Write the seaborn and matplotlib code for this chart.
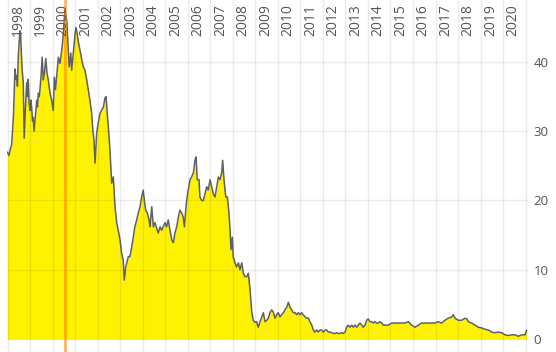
import matplotlib
matplotlib.use("Agg")
import matplotlib.pyplot as plt
import seaborn as sns
import pandas as pd

# time (decimal years) and price
dates = [
    1997.97, 1998.04, 1998.11, 1998.16, 1998.20, 1998.24, 1998.28, 1998.31, 1998.36, 1998.39,
    1998.42, 1998.46, 1998.50, 1998.53, 1998.56, 1998.61, 1998.64, 1998.68, 1998.72, 1998.77,
    1998.83, 1998.87, 1998.90, 1998.94, 1998.98, 1999.02, 1999.05, 1999.09, 1999.12, 1999.16,
    1999.20, 1999.24, 1999.28, 1999.31, 1999.35, 1999.39, 1999.42, 1999.47, 1999.52, 1999.57,
    1999.62, 1999.68, 1999.73, 1999.79, 1999.87, 1999.94, 2000.01, 2000.06, 2000.11, 2000.16,
    2000.24, 2000.31, 2000.39, 2000.46, 2000.50, 2000.53, 2000.61, 2000.68, 2000.72, 2000.79,
    2000.83, 2000.90, 2000.98, 2001.02, 2001.08, 2001.12, 2001.20, 2001.28, 2001.35, 2001.42,
    2001.50, 2001.57, 2001.64, 2001.72, 2001.76, 2001.82, 2001.87, 2001.94, 2002.01, 2002.09,
    2002.16, 2002.24, 2002.31, 2002.36, 2002.41, 2002.46, 2002.53, 2002.61, 2002.68, 2002.76,
    2002.83, 2002.90, 2002.98, 2003.05, 2003.12, 2003.17, 2003.23, 2003.28, 2003.35, 2003.42,
    2003.50, 2003.57, 2003.64, 2003.72, 2003.79, 2003.87, 2003.94, 2004.01, 2004.06, 2004.12,
    2004.19, 2004.27, 2004.31, 2004.39, 2004.46, 2004.53, 2004.61, 2004.68, 2004.76, 2004.83,
    2004.90, 2004.98, 2005.05, 2005.12, 2005.20, 2005.28, 2005.35, 2005.42, 2005.50, 2005.57,
    2005.64, 2005.72, 2005.79, 2005.84, 2005.90, 2005.94, 2006.01, 2006.09, 2006.16, 2006.24,
    2006.31, 2006.36, 2006.41, 2006.49, 2006.53, 2006.61, 2006.68, 2006.76, 2006.83, 2006.90,
    2006.98, 2007.05, 2007.12, 2007.20, 2007.28, 2007.35, 2007.42, 2007.50, 2007.54, 2007.60,
    2007.68, 2007.75, 2007.82, 2007.87, 2007.91, 2007.97, 2008.01, 2008.09, 2008.16, 2008.24,
    2008.31, 2008.39, 2008.46, 2008.53, 2008.61, 2008.68, 2008.76, 2008.83, 2008.90, 2008.98,
    2009.05, 2009.12, 2009.20, 2009.28, 2009.35, 2009.42, 2009.50, 2009.57, 2009.64, 2009.72,
    2009.79, 2009.87, 2009.94, 2010.01, 2010.09, 2010.16, 2010.24, 2010.31, 2010.39, 2010.46,
    2010.53, 2010.61, 2010.68, 2010.76, 2010.83, 2010.90, 2010.98, 2011.05, 2011.12, 2011.20,
    2011.28, 2011.35, 2011.42, 2011.50, 2011.57, 2011.64, 2011.72, 2011.79, 2011.87, 2011.94,
    2012.01, 2012.09, 2012.16, 2012.24, 2012.31, 2012.39, 2012.46, 2012.53, 2012.61, 2012.68,
    2012.76, 2012.83, 2012.90, 2012.98, 2013.05, 2013.12, 2013.20, 2013.28, 2013.35, 2013.42,
    2013.50, 2013.57, 2013.64, 2013.72, 2013.79, 2013.87, 2013.94, 2014.01, 2014.09, 2014.16,
    2014.24, 2014.31, 2014.39, 2014.46, 2014.53, 2014.61, 2014.68, 2014.76, 2014.90, 2015.05,
    2015.20, 2015.35, 2015.50, 2015.64, 2015.79, 2015.94, 2016.09, 2016.24, 2016.39, 2016.53,
    2016.68, 2016.83, 2016.98, 2017.12, 2017.27, 2017.42, 2017.57, 2017.72, 2017.79, 2017.87,
    2018.01, 2018.16, 2018.31, 2018.39, 2018.46, 2018.61, 2018.76, 2018.90, 2019.05, 2019.20,
    2019.35, 2019.50, 2019.64, 2019.79, 2019.94, 2020.09, 2020.24, 2020.39, 2020.53, 2020.68,
    2020.83, 2020.98, 2021.05,
]
prices = [
    27.0, 26.5, 27.5, 28.0, 30.0, 32.0, 36.0, 39.0, 37.5, 38.0,
    36.5, 41.0, 43.0, 44.5, 44.0, 40.0, 38.5, 37.0, 29.0, 33.0,
    37.0, 35.0, 37.5, 34.0, 33.0, 34.5, 33.5, 31.5, 32.0, 30.0,
    31.6, 33.0, 34.5, 33.5, 35.5, 35.0, 36.0, 38.0, 40.7, 37.4,
    38.5, 40.5, 38.5, 37.4, 35.5, 34.5, 33.0, 37.8, 36.0, 37.8,
    40.7, 39.8, 41.7, 44.0, 46.0, 47.5, 46.0, 41.7, 39.3, 41.3,
    38.8, 41.3, 44.0, 45.0, 44.0, 43.0, 41.7, 40.3, 39.3, 38.8,
    37.4, 36.0, 34.5, 32.6, 30.6, 28.7, 25.4, 29.7, 31.2, 32.6,
    33.0, 33.5, 34.8, 35.0, 32.6, 30.6, 27.3, 22.5, 23.4, 19.0,
    16.8, 15.7, 14.3, 12.4, 11.4, 8.5, 10.4, 11.0, 11.9, 11.9,
    13.3, 14.7, 16.2, 17.2, 18.2, 19.1, 20.5, 21.5, 20.0, 18.6,
    18.2, 17.2, 16.2, 19.1, 16.2, 16.8, 16.0, 15.3, 16.2, 15.7,
    16.2, 16.8, 16.2, 17.2, 15.7, 14.3, 13.9, 15.3, 16.2, 17.6,
    18.6, 18.2, 17.6, 16.2, 18.6, 20.0, 21.5, 23.0, 23.4, 24.0,
    25.8, 26.3, 23.0, 23.0, 20.5, 20.0, 20.0, 21.0, 22.0, 21.5,
    23.0, 22.0, 21.0, 20.5, 22.0, 23.4, 23.0, 24.0, 25.8, 23.0,
    20.5, 20.5, 18.2, 15.7, 12.9, 14.7, 11.9, 11.0, 10.4, 11.0,
    10.0, 11.0, 9.5, 9.0, 9.0, 9.5, 7.1, 4.0, 2.7, 2.4,
    2.5, 1.7, 2.5, 3.2, 3.8, 2.5, 2.7, 3.0, 3.8, 4.2,
    3.9, 3.0, 3.5, 3.8, 3.2, 3.5, 3.8, 4.2, 4.6, 5.3,
    4.6, 4.2, 3.8, 3.8, 3.5, 3.8, 3.5, 3.8, 3.5, 3.2,
    3.0, 3.0, 2.5, 2.0, 1.3, 1.0, 1.3, 1.0, 1.3, 1.3,
    1.0, 1.3, 1.3, 1.0, 1.0, 0.9, 0.8, 0.8, 0.9, 0.8,
    0.8, 0.9, 0.8, 1.0, 1.7, 2.0, 1.7, 2.0, 1.7, 2.0,
    1.7, 2.0, 2.3, 2.0, 1.7, 2.0, 2.7, 2.9, 2.5, 2.5,
    2.3, 2.5, 2.3, 2.3, 2.5, 2.3, 2.0, 2.0, 2.0, 2.3,
    2.3, 2.3, 2.3, 2.3, 2.5, 2.0, 1.7, 2.0, 2.3, 2.3,
    2.3, 2.3, 2.3, 2.5, 2.3, 2.7, 3.0, 3.2, 3.5, 3.0,
    2.7, 2.7, 3.0, 2.9, 2.5, 2.3, 2.0, 1.7, 1.6, 1.4,
    1.3, 1.0, 0.9, 1.0, 0.9, 0.6, 0.5, 0.6, 0.6, 0.4,
    0.6, 0.6, 1.3,
]
year_labels = list(range(1998, 2021))
y_ticks = [0, 10, 20, 30, 40]
marker_date = 2000.53

df = pd.DataFrame({"date": dates, "price": prices})

sns.set_theme(style="white")
plt.rcParams["font.family"] = ["Open Sans", "DejaVu Sans"]

fig = plt.figure(figsize=(5.56, 3.52), dpi=100)
ax = fig.add_axes([7 / 556, 0.0, 521 / 556, 1.0])

ax.fill_between(df["date"], 0, df["price"], color="#fff200", linewidth=0, zorder=1)
sns.lineplot(data=df, x="date", y="price", ax=ax, color="#5f5f66", linewidth=1.1, zorder=4)

# grid lines (drawn above the fill, faintly)
for yr in range(1998, 2022):
    ax.axvline(yr, color="black", alpha=0.08, linewidth=1, zorder=2)
for yv in y_ticks:
    ax.axhline(yv, color="black", alpha=0.07, linewidth=1, zorder=2)

ax.axvline(marker_date, color="#ff8000", alpha=0.6, linewidth=2, zorder=5)

ax.set_xlim(1997.956, 2021.111)
ax.set_ylim(-1.88, 48.95)

ax.set_xticks([])
ax.yaxis.tick_right()
ax.set_yticks(y_ticks)
ax.set_yticklabels([str(v) for v in y_ticks])
ax.tick_params(axis="y", length=0, pad=4, labelsize=9.5, labelcolor="#555555")
ax.set_xlabel("")
ax.set_ylabel("")
for s in ax.spines.values():
    s.set_visible(False)

for yr in year_labels:
    ax.text(yr + 0.45, 0.988, str(yr), transform=ax.get_xaxis_transform(),
            rotation=90, ha="center", va="top", fontsize=10, color="#555555", zorder=6)

fig.savefig("out.png", dpi=100)
